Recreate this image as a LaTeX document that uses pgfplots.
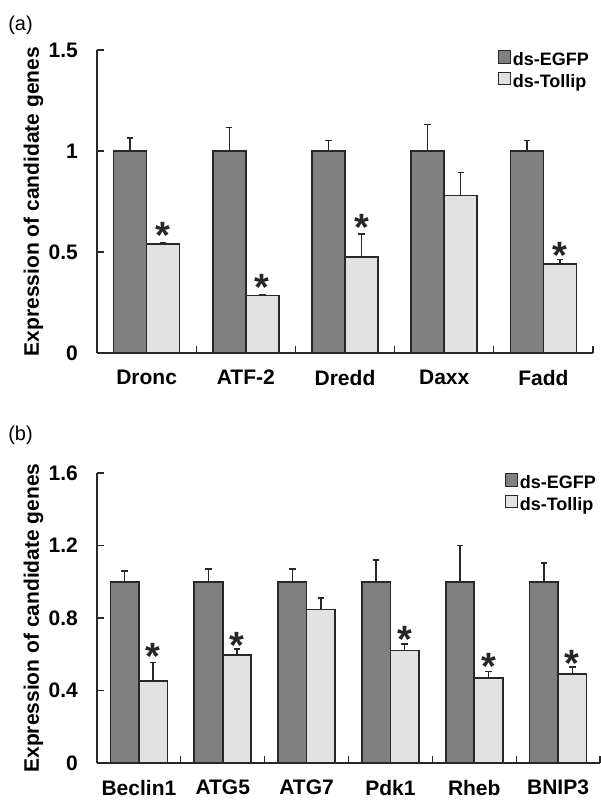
\documentclass[border=0pt]{standalone}
\usepackage{pgfplots}
\pgfplotsset{compat=1.18}
\usepackage{fontspec}
\setmainfont{Liberation Sans}

\definecolor{egfp}{RGB}{128,128,128}
\definecolor{tollip}{RGB}{226,226,226}
\definecolor{edge}{RGB}{40,40,40}

\pgfplotsset{
  panel/.style={
    scale only axis,
    enlargelimits=false,
    axis x line*=bottom,
    axis y line*=left,
    axis line style={line width=1.3pt, draw=edge},
    ybar,
    ymin=0,
    tick align=inside,
    major tick length=7pt,
    every tick/.style={line width=1.3pt, draw=edge},
    tick label style={font=\fontsize{21}{21}\selectfont\bfseries},
    /pgf/number format/assume math mode=true,
    yticklabel style={inner sep=0pt, xshift=-19pt},
    xticklabel style={inner sep=0pt, yshift=-17pt},
    xticklabels={},
    extra x tick style={major tick length=0pt},
    label style={font=\fontsize{21}{21}\selectfont\bfseries},
    ylabel={Expression of candidate genes},
    legend style={at={(rel axis cs:0.995,1.0)}, anchor=north east, draw=none, fill=none,
      font=\fontsize{18}{18}\selectfont\bfseries, inner sep=0pt, row sep=3pt,
      nodes={inner sep=1.5pt}},
    legend cell align=left,
    legend image code/.code={\draw[#1, line width=1pt] (0pt,-3pt) rectangle (12pt,9.5pt);},
    error bars/error bar style={line width=1.4pt, draw=edge},
    error bars/error mark options={line width=1.4pt, draw=edge, mark size=3.2pt, rotate=90},
  },
  egfpbar/.style={fill=egfp, draw=edge, line width=1.6pt},
  tollipbar/.style={fill=tollip, draw=edge, line width=1.6pt},
  stars/.style={sharp plot, draw=none, mark=none, bar shift=0pt,
    nodes near coords={*},
    every node near coord/.style={anchor=center, inner sep=0pt, font=\fontsize{38}{38}\selectfont\bfseries, text=black!85}},
}

\begin{document}
\begin{tikzpicture}
\useasboundingbox (0pt,0pt) rectangle (601pt,800pt);

\node[font=\fontsize{20}{20}\selectfont] at (20.5pt,775pt) {(a)};
\node[font=\fontsize{20}{20}\selectfont] at (20.5pt,365pt) {(b)};

% ---------------- panel (a)
\begin{axis}[panel,
  at={(97pt,447pt)}, anchor=south west,
  width=496pt, height=303pt,
  xmin=-0.5, xmax=4.5, ymax=1.5,
  ytick={0,0.5,1,1.5},
  xtick={0.5,1.5,2.5,3.5,4.5},
  extra x ticks={0,1,2,3,4},
  extra x tick labels={Dronc,ATF-2,Dredd,Daxx,Fadd},
  bar width=0.333,
  ylabel style={at={(axis description cs:-0.108,0.5)}, anchor=south, inner sep=0pt},
]
\addplot[egfpbar, bar shift=-0.1667,
  error bars/.cd, y dir=plus, y explicit]
  coordinates {(0,1) +- (0,0.065) (1,1) +- (0,0.115) (2,1) +- (0,0.053) (3,1) +- (0,0.13) (4,1) +- (0,0.053)};
\addlegendentry{ds-EGFP}
\addplot[tollipbar, bar shift=0.1667,
  error bars/.cd, y dir=plus, y explicit]
  coordinates {(0,0.54) +- (0,0.005) (1,0.285) +- (0,0.005) (2,0.475) +- (0,0.115) (3,0.779) +- (0,0.115) (4,0.442) +- (0,0.02)};
\addlegendentry{ds-Tollip}
\addplot[stars, forget plot] coordinates {(0.1667,0.580) (1.1667,0.327) (2.1667,0.621) (4.1667,0.481)};
\end{axis}

% ---------------- panel (b)
\begin{axis}[panel,
  at={(97pt,37pt)}, anchor=south west,
  width=503pt, height=290pt,
  xmin=-0.5, xmax=5.5, ymax=1.6,
  ytick={0,0.4,0.8,1.2,1.6},
  yticklabels={0,0.4,0.8,1.2,1.6},
  xtick={0.5,1.5,2.5,3.5,4.5,5.5},
  extra x ticks={0,1,2,3,4,5},
  extra x tick labels={Beclin1,ATG5,ATG7,Pdk1,Rheb,BNIP3},
  bar width=0.34,
  ylabel style={at={(axis description cs:-0.1064,0.5)}, anchor=south, inner sep=0pt},
]
\addplot[egfpbar, bar shift=-0.17,
  error bars/.cd, y dir=plus, y explicit]
  coordinates {(0,1) +- (0,0.06) (1,1) +- (0,0.07) (2,1) +- (0,0.07) (3,1) +- (0,0.12) (4,1) +- (0,0.2) (5,1) +- (0,0.103)};
\addlegendentry{ds-EGFP}
\addplot[tollipbar, bar shift=0.17,
  error bars/.cd, y dir=plus, y explicit]
  coordinates {(0,0.454) +- (0,0.1) (1,0.597) +- (0,0.032) (2,0.846) +- (0,0.064) (3,0.62) +- (0,0.036) (4,0.469) +- (0,0.037) (5,0.491) +- (0,0.038)};
\addlegendentry{ds-Tollip}
\addplot[stars, forget plot] coordinates {(0.17,0.590) (1.17,0.649) (3.17,0.682) (4.17,0.535) (5.17,0.550)};
\end{axis}
\end{tikzpicture}
\end{document}
